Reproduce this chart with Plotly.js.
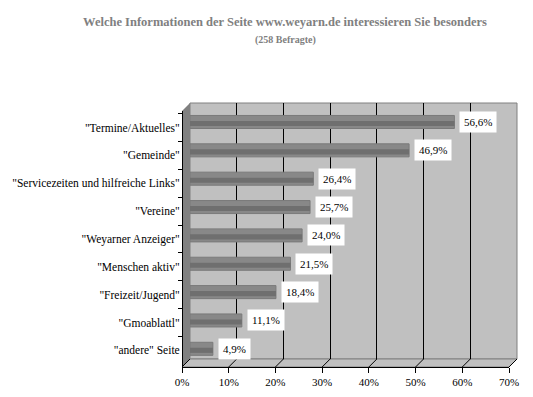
<!DOCTYPE html>
<html>
<head>
<meta charset="utf-8">
<script src="https://cdn.plot.ly/plotly-3.0.1.min.js"></script>
<style>html,body{margin:0;padding:0;background:#fff}#chart{width:533px;height:397px}</style>
</head>
<body>
<div id="chart"></div>
<script>
// ---- data ----
const categories = [
  '"Termine/Aktuelles"',
  '"Gemeinde"',
  '"Servicezeiten und hilfreiche Links"',
  '"Vereine"',
  '"Weyarner Anzeiger"',
  '"Menschen aktiv"',
  '"Freizeit/Jugend"',
  '"Gmoablattl"',
  '"andere" Seite'
];
const values = [56.6, 46.9, 26.4, 25.7, 24.0, 21.5, 18.4, 11.1, 4.9];
const xTicks = [0, 10, 20, 30, 40, 50, 60, 70];
const gridTicks = [10, 20, 30, 40, 50, 60];
const titleText = 'Welche Informationen der Seite www.weyarn.de interessieren Sie besonders';
const subtitleText = '(258 Befragte)';

const labels = values.map(v => v.toFixed(1).replace('.', ',') + '%');

// ---- geometry (3D look) ----
const L = 182, R = 16, T = 103, B = 30;
const PW = 533 - L - R, PH = 397 - T - B;
const dx = 8, dy = 8;
const fx = dx / PW, fy = dy / PH;
const FONT = 'Liberation Serif, Times New Roman, serif';

const barW = 0.46;
const catPx = (PH - dy) / categories.length;
const shift = 4 / catPx;
const bandW = 0.18;

const traces = [
  {
    type: 'bar', orientation: 'h',
    x: values, y: categories,
    xaxis: 'x', yaxis: 'y',
    width: barW, offset: -barW / 2 + shift,
    marker: {color: '#888888', line: {color: '#7a7a7a', width: 1}},
    hoverinfo: 'skip'
  },
  {
    type: 'bar', orientation: 'h',
    x: values, y: categories,
    xaxis: 'x', yaxis: 'y',
    width: bandW, offset: -bandW / 2 + shift + 1.5 / catPx,
    marker: {color: '#6f6f6f', line: {width: 0}},
    hoverinfo: 'skip'
  },
  {
    type: 'scatter', mode: 'markers',
    x: values, y: categories,
    xaxis: 'x2', yaxis: 'y2',
    marker: {opacity: 0},
    hoverinfo: 'skip', showlegend: false
  }
];

const shapes = [
  // back wall
  {type: 'rect', xref: 'paper', yref: 'paper', x0: fx, x1: 1, y0: fy, y1: 1,
   fillcolor: '#c0c0c0', line: {color: '#808080', width: 1}, layer: 'below'},
  // left wall
  {type: 'path', xref: 'paper', yref: 'paper',
   path: `M 0 ${1 - fy} L ${fx} 1 L ${fx} ${fy} L 0 0 Z`,
   fillcolor: '#808080', line: {width: 0}, layer: 'below'},
  // floor
  {type: 'path', xref: 'paper', yref: 'paper',
   path: `M 0 0 L ${1 - fx} 0 L 1 ${fy} L ${fx} ${fy} Z`,
   fillcolor: '#c0c0c0', line: {color: '#808080', width: 1}, layer: 'below'}
];
xTicks.forEach(t => {
  const f = t / 70;
  shapes.push({type: 'line', xref: 'paper', yref: 'paper',
    x0: (1 - fx) * f, y0: 0, x1: fx + (1 - fx) * f, y1: fy,
    line: {color: '#000', width: 1}, layer: 'below'});
});

const annotations = values.map((v, i) => ({
  x: v, y: categories[i], xref: 'x', yref: 'y',
  xanchor: 'left', yanchor: 'middle', xshift: 5, yshift: -4,
  text: labels[i], showarrow: false,
  bgcolor: '#ffffff', borderpad: 4,
  font: {family: FONT, size: 11, color: '#000'}
}));
annotations.push({
  text: '<b>' + subtitleText + '</b>', showarrow: false,
  xref: 'paper', yref: 'paper',
  x: (285 - L) / PW, y: (397 - B - 40) / PH,
  xanchor: 'center', yanchor: 'middle',
  font: {family: FONT, size: 10, color: '#808080'}
});

const layout = {
  width: 533, height: 397,
  margin: {l: L, r: R, t: T, b: B, pad: 0},
  paper_bgcolor: '#ffffff', plot_bgcolor: 'rgba(0,0,0,0)',
  showlegend: false,
  barmode: 'overlay',
  font: {family: FONT},
  title: {
    text: '<b>' + titleText + '</b>',
    x: 285 / 533, xanchor: 'center',
    y: 1 - 22 / 397, yanchor: 'middle',
    font: {family: FONT, size: 12.5, color: '#808080'}
  },
  xaxis: {
    domain: [fx, 1], range: [0, 70], anchor: 'y',
    tickvals: gridTicks, showticklabels: false, ticks: '',
    showgrid: true, gridcolor: '#000', gridwidth: 1,
    zeroline: false, showline: false, fixedrange: true
  },
  yaxis: {
    domain: [fy, 1], anchor: 'x', type: 'category',
    categoryorder: 'array', categoryarray: categories,
    autorange: 'reversed',
    showticklabels: false, showgrid: false, zeroline: false, showline: false, ticks: ''
  },
  xaxis2: {
    domain: [0, 1 - fx], range: [0, 70], anchor: 'free', position: 0,
    tickvals: xTicks, ticktext: xTicks.map(t => t + '%'),
    ticks: 'outside', ticklen: 5, tickcolor: '#000', tickwidth: 1,
    showline: true, linecolor: '#000', linewidth: 1,
    showgrid: false, zeroline: false,
    tickfont: {family: FONT, size: 11, color: '#000'}
  },
  yaxis2: {
    domain: [0, 1 - fy], anchor: 'free', position: 0, type: 'category',
    categoryorder: 'array', categoryarray: categories,
    autorange: 'reversed',
    ticks: 'outside', ticklen: 4, tickcolor: '#000', tickwidth: 1, tickson: 'boundaries',
    showline: true, linecolor: '#000', linewidth: 1,
    showgrid: false, zeroline: false,
    tickfont: {family: FONT, size: 11.5, color: '#000'}
  },
  shapes: shapes,
  annotations: annotations
};

Plotly.newPlot('chart', traces, layout, {staticPlot: true, displayModeBar: false});
</script>
</body>
</html>
